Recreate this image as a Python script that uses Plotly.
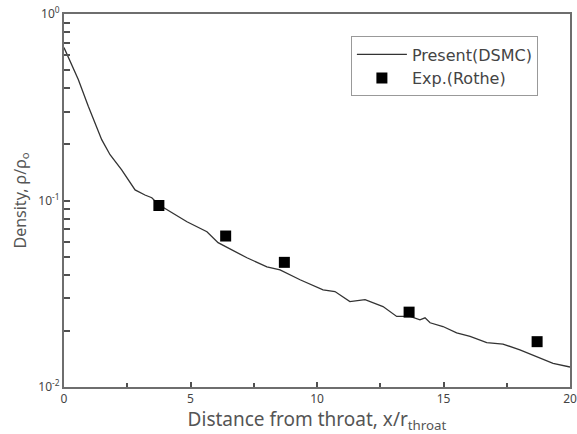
import plotly.graph_objects as go

# DSMC curve (x/r_throat, rho/rho0)
dsmc_x = [0, 0.565, 0.96, 1.23, 1.49, 1.82, 2.28, 2.81, 3.20, 3.47, 3.75, 4.86, 5.65, 6.09, 7.23, 8.02,
          8.54, 9.33, 10.24, 10.71, 11.30, 11.90, 12.61, 13.15, 13.68, 14.07, 14.27, 14.47, 14.98,
          15.52, 16.05, 16.71, 17.35, 18.02, 18.68, 19.33, 20.0]
dsmc_y = [0.661, 0.445, 0.320, 0.262, 0.212, 0.176, 0.146, 0.114, 0.107, 0.1035, 0.0948, 0.0769, 0.0680,
          0.0594, 0.0493, 0.0441, 0.0425, 0.0376, 0.0332, 0.0325, 0.0287, 0.0294, 0.0270, 0.0239,
          0.0239, 0.0229, 0.0235, 0.0221, 0.0211, 0.0195, 0.0187, 0.0173, 0.0170, 0.0158, 0.0146,
          0.0134, 0.0128]

# Experimental data (Rothe)
exp_x = [3.75, 6.39, 8.71, 13.64, 18.7]
exp_y = [0.094, 0.0645, 0.0466, 0.0252, 0.0175]

# y ticks: decades labelled, intermediate log ticks unlabelled
y_major_vals = [0.01, 0.1, 1]
y_major_text = ["10<sup>-2</sup>", "10<sup>-1</sup>", "10<sup>0</sup>"]
y_minor_vals = [m * 10 ** e for e in (-2, -1) for m in range(2, 10)]
y_tickvals = y_major_vals + y_minor_vals
y_ticktext = y_major_text + [""] * len(y_minor_vals)

x_tickvals = [0, 5, 10, 15, 20]

FONT = "Noto Sans, DejaVu Sans, sans-serif"
AX = "#6e6e6e"
TK = "#505050"

fig = go.Figure()
fig.add_trace(go.Scatter(x=dsmc_x, y=dsmc_y, mode="lines", name="Present(DSMC)",
                         line=dict(color="#333333", width=1.3)))
fig.add_trace(go.Scatter(x=exp_x, y=exp_y, mode="markers", name="Exp.(Rothe)",
                         marker=dict(symbol="square", size=11, color="black")))

axis_common = dict(showgrid=False, zeroline=False, showline=True, mirror=True,
                   linecolor=AX, linewidth=2, ticks="inside", tickcolor=TK, tickwidth=1.5,
                   ticklabeloverflow="allow",
                   tickfont=dict(family=FONT, size=12, color="#444444"))

fig.update_layout(
    width=577, height=434,
    margin=dict(l=64, r=7, t=14, b=47, autoexpand=False),
    paper_bgcolor="white", plot_bgcolor="white",
    font=dict(family=FONT, color="#444444"),
    xaxis=dict(range=[0, 20], tickvals=x_tickvals, ticklen=5,
               minor=dict(dtick=2.5, ticks="inside", ticklen=4, tickcolor=TK, tickwidth=1.5),
               title=dict(text="Distance from throat, x/r<sub>throat</sub>",
                          font=dict(size=19, color="#555555"), standoff=2),
               **axis_common),
    yaxis=dict(type="log", range=[-2, 0], tickvals=y_tickvals, ticktext=y_ticktext, ticklen=6,
               title=dict(text="Density, ρ/ρ<sub>o</sub>", font=dict(size=16, color="#555555"), standoff=8),
               **axis_common),
    legend=dict(x=0.567, y=0.94, xanchor="left", yanchor="top",
                bgcolor="white", bordercolor="#999999", borderwidth=1,
                font=dict(family="DejaVu Sans, sans-serif", size=16, color="#444444"),
                tracegroupgap=0, itemwidth=50),
    showlegend=True,
)

fig.write_html("out.html", config={"displayModeBar": False},
               post_script="document.body.style.margin='0';")
